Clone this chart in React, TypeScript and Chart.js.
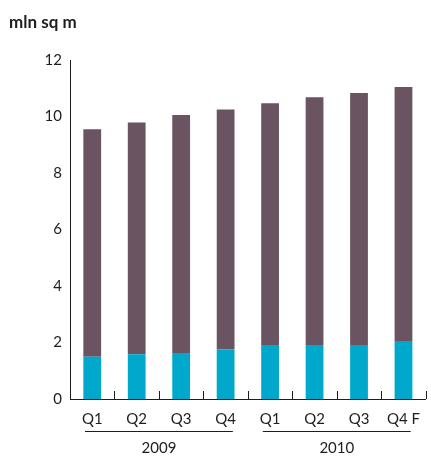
import React, { useEffect, useRef } from "react";
import { Chart, registerables } from "chart.js";

Chart.register(...registerables);

const quarters = ["Q1", "Q2", "Q3", "Q4", "Q1", "Q2", "Q3", "Q4 F"];
const years = ["2009", "2010"];
const quartersPerYear = 4;
const yTicks = [0, 2, 4, 6, 8, 10, 12];

// lower (teal) and upper (purple) segments of each stacked bar, mln sq m
const lowerSegment = [1.5, 1.58, 1.63, 1.75, 1.91, 1.91, 1.91, 2.05];
const upperSegment = [8.05, 8.21, 8.42, 8.5, 8.56, 8.77, 8.92, 8.99];

const FONT = "Lato, 'Noto Sans', sans-serif";
const INK = "#1e1e1e";

const axisDecor = {
  id: "axisDecor",
  afterDraw(chart: any) {
    const { ctx, chartArea } = chart;
    const n = quarters.length;
    const step = (chartArea.right - chartArea.left) / n;
    ctx.save();
    ctx.strokeStyle = INK;
    ctx.lineWidth = 1;
    // inward tick marks between categories
    for (let i = 1; i <= n; i++) {
      const px = Math.round(chartArea.left + i * step) + 0.5;
      ctx.beginPath();
      ctx.moveTo(px, chartArea.bottom - 8);
      ctx.lineTo(px, chartArea.bottom);
      ctx.stroke();
    }
    // year groups: underline + label
    ctx.fillStyle = INK;
    ctx.font = `15px ${FONT}`;
    ctx.textAlign = "center";
    ctx.textBaseline = "middle";
    years.forEach((yr, g) => {
      const left = chartArea.left + g * quartersPerYear * step;
      const right = left + quartersPerYear * step;
      ctx.beginPath();
      ctx.moveTo(left + 15, 431.5);
      ctx.lineTo(right - 15, 431.5);
      ctx.stroke();
      ctx.fillText(yr, (left + right) / 2, 448);
    });
    // unit title
    ctx.textAlign = "left";
    ctx.font = `bold 17px ${FONT}`;
    ctx.fillText("mln sq m", 9, 23);
    ctx.restore();
  },
};

export default function App() {
  const ref = useRef<HTMLCanvasElement>(null);
  useEffect(() => {
    if (!ref.current) return;
    const chart = new Chart(ref.current, {
      type: "bar",
      data: {
        labels: quarters,
        datasets: [
          {
            data: lowerSegment,
            backgroundColor: "#00a9cc",
            barPercentage: 0.4,
            categoryPercentage: 1,
          },
          {
            data: upperSegment,
            backgroundColor: "#6b5461",
            barPercentage: 0.4,
            categoryPercentage: 1,
          },
        ],
      },
      options: {
        animation: false,
        responsive: false,
        maintainAspectRatio: false,
        layout: { padding: { top: 60, right: 0, left: 0, bottom: 0 } },
        plugins: { legend: { display: false }, tooltip: { enabled: false } },
        scales: {
          x: {
            stacked: true,
            grid: { display: false, drawTicks: false },
            border: { display: true, color: INK, width: 1 },
            ticks: {
              color: INK,
              font: { family: FONT, size: 15 },
              padding: 11,
              maxRotation: 0,
              autoSkip: false,
            },
            afterFit(scale: any) {
              scale.height = 57;
            },
          },
          y: {
            stacked: true,
            min: 0,
            max: 12,
            afterBuildTicks(scale: any) {
              scale.ticks = yTicks.map((v) => ({ value: v }));
            },
            grid: { display: false, drawTicks: false },
            border: { display: true, color: INK, width: 1 },
            ticks: {
              color: INK,
              font: { family: FONT, size: 15 },
              padding: 8,
            },
            afterFit(scale: any) {
              scale.width = 70;
            },
          },
        },
      },
      plugins: [axisDecor],
    });
    return () => chart.destroy();
  }, []);
  return (
    <div style={{ position: "absolute", left: 0, top: 0, width: 431, height: 456, background: "#fff" }}>
      <canvas ref={ref} width={431} height={456} />
    </div>
  );
}
